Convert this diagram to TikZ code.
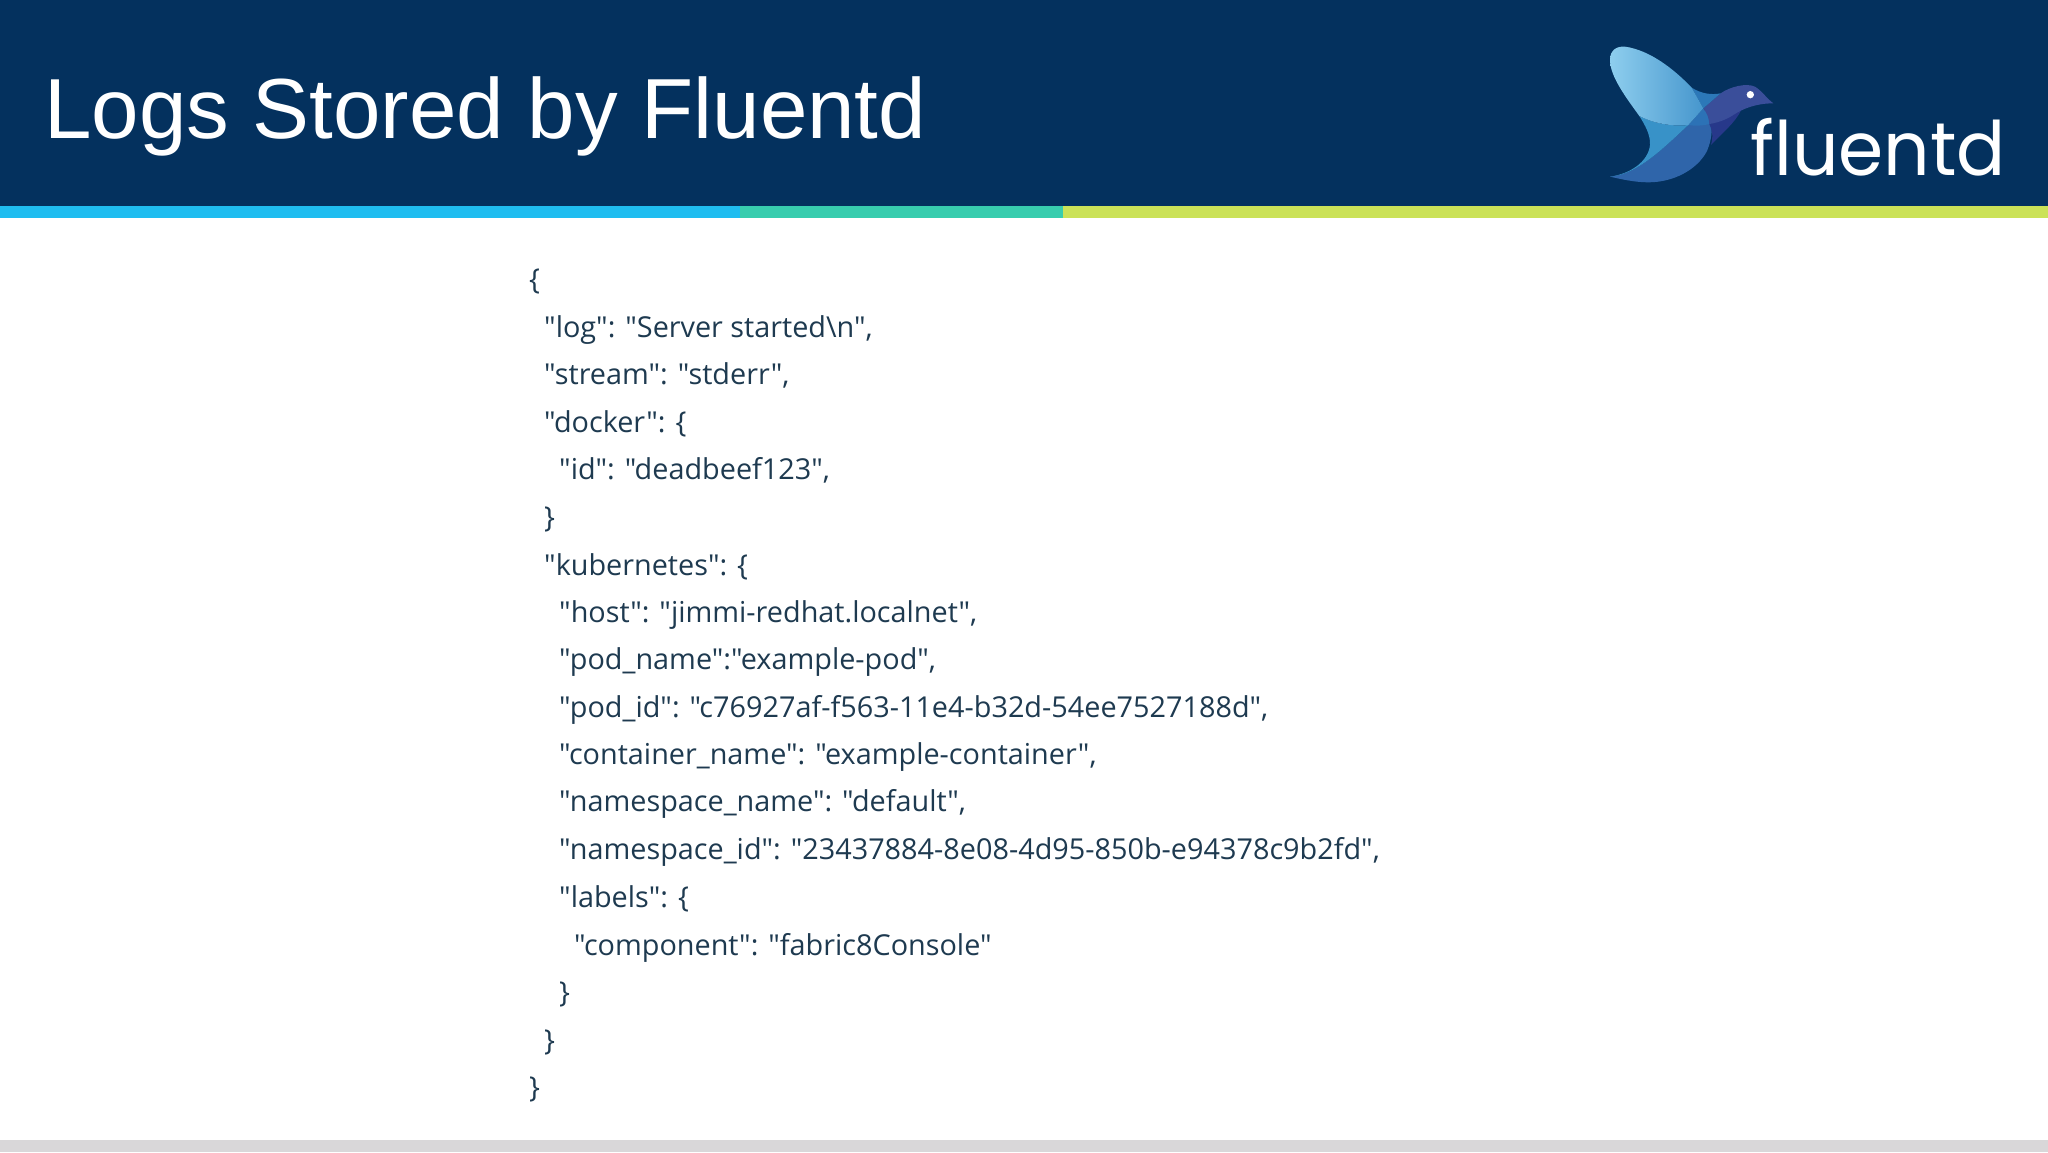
\documentclass[tikz,border=0pt]{standalone}
\usepackage{fontspec}
\setmainfont{Liberation Sans}
\newfontfamily\codefont{Open Sans}
\newfontfamily\logofont{Poppins}[FakeStretch=0.97]
\definecolor{headblue}{HTML}{04315E}
\definecolor{barblue}{HTML}{1FBDF0}
\definecolor{barteal}{HTML}{38CDAE}
\definecolor{bargreen}{HTML}{CBE258}
\definecolor{footgray}{HTML}{D9D7D9}
\definecolor{codeink}{HTML}{1E3A50}
\definecolor{birdlight}{HTML}{8ECEEE}
\definecolor{birdmid}{HTML}{4696CD}
\definecolor{birdtail}{HTML}{3892C8}
\definecolor{birdbody}{HTML}{2F65AA}
\definecolor{birdchest}{HTML}{2C72B6}
\definecolor{birdshoulder}{HTML}{2C78B8}
\definecolor{birdhead}{HTML}{3A4E9A}
\definecolor{birdbelly}{HTML}{27388A}
\tikzset{
    codeline/.style={anchor=base west, inner sep=0pt, text=codeink, font=\codefont\fontsize{28.8}{29}\selectfont},
}
\begin{document}
\begin{tikzpicture}[x=1pt,y=-1pt]
    \useasboundingbox (0,0) rectangle (2048,1152);
    \fill[white] (0,0) rectangle (2048,1152);
    \fill[headblue] (0,0) rectangle (2048,206);
    \fill[barblue] (0,206) rectangle (740,218);
    \fill[barteal] (740,206) rectangle (1063,218);
    \fill[bargreen] (1063,206) rectangle (2048,218);
    \fill[footgray] (0,1140) rectangle (2048,1152);

    \node[anchor=base west, inner sep=0pt, text=white, font=\fontsize{85.3}{85}\selectfont] (title) at (44,138) {Logs Stored by Fluentd};

    % bird, coordinates read from a 3x crop
    \begin{scope}[shift={(1560,20)},x=0.3333pt,y=-0.3333pt]
        \fill[birdbody] (385,315) -- (440,268) .. controls (458,300) and (462,345) .. (440,395) .. controls (410,450) and (340,487) .. (265,487) .. controls (225,487) and (185,478) .. (150,470) .. controls (230,465) and (310,385) .. (385,315) -- cycle;
        \fill[birdchest] (385,315) -- (430,265) .. controls (442,280) and (447,295) .. (448,312) .. controls (425,318) and (405,318) .. (385,315) -- cycle;
        \fill[birdtail] (238,288) .. controls (285,312) and (340,320) .. (385,315) .. controls (310,385) and (230,465) .. (150,470) .. controls (210,462) and (265,425) .. (270,375) .. controls (272,345) and (255,315) .. (238,288) -- cycle;
        \fill[birdbelly] (448,312) .. controls (480,305) and (520,285) .. (545,268) .. controls (525,310) and (485,340) .. (453,375) .. controls (460,355) and (458,335) .. (448,312) -- cycle;
        \fill[birdhead] (430,265) -- (482,220) .. controls (510,200) and (560,188) .. (585,200) .. controls (605,212) and (620,235) .. (640,250) .. controls (590,250) and (550,265) .. (520,285) .. controls (500,298) and (475,308) .. (448,312) .. controls (447,295) and (442,280) .. (430,265) -- cycle;
        \fill[birdshoulder] (395,203) .. controls (425,222) and (455,225) .. (482,220) -- (430,265) -- cycle;
        \shade[left color=birdlight, right color=birdmid] (150,120) .. controls (150,90) and (170,78) .. (195,80) .. controls (270,90) and (345,150) .. (395,203) -- (430,265) -- (385,315) .. controls (340,320) and (285,312) .. (238,288) .. controls (200,235) and (150,170) .. (150,120) -- cycle;
        \fill[white] (571,224) circle [radius=11];
    \end{scope}
    \node[anchor=base west, inner sep=0pt, text=white, font=\logofont\fontsize{75}{75}\selectfont] (logo) at (1750,175) {fluentd};

    \node[codeline] (open) at (529,289) {\{};
    \node[codeline] (log) at (544,337) {"log": "Server started\textbackslash n",};
    \node[codeline] (stream) at (544,384) {"stream": "stderr",};
    \node[codeline] (docker) at (544,432) {"docker": \{};
    \node[codeline] (id) at (559,479) {"id": "deadbeef123",};
    \node[codeline] (dockerend) at (544,527) {\}};
    \node[codeline] (kube) at (544,575) {"kubernetes": \{};
    \node[codeline] (host) at (559,622) {"host": "jimmi-redhat.localnet",};
    \node[codeline] (podname) at (559,669) {"pod\_name":"example-pod",};
    \node[codeline] (podid) at (559,717) {"pod\_id": "c76927af-f563-11e4-b32d-54ee7527188d",};
    \node[codeline] (container) at (559,764) {"container\_name": "example-container",};
    \node[codeline] (nsname) at (559,811) {"namespace\_name": "default",};
    \node[codeline] (nsid) at (559,859) {"namespace\_id": "23437884-8e08-4d95-850b-e94378c9b2fd",};
    \node[codeline] (labels) at (559,907) {"labels": \{};
    \node[codeline] (component) at (574,955) {"component": "fabric8Console"};
    \node[codeline] (labelsend) at (559,1002) {\}};
    \node[codeline] (kubeend) at (544,1050) {\}};
    \node[codeline] (close) at (529,1097) {\}};
\end{tikzpicture}
\end{document}
